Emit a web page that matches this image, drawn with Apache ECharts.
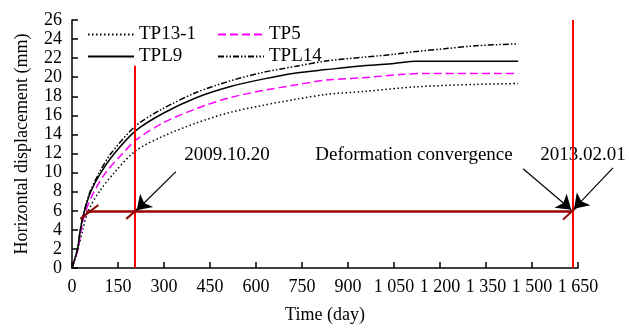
<!DOCTYPE html>
<html>
<head>
<meta charset="utf-8">
<script src="https://cdn.jsdelivr.net/npm/echarts@6/dist/echarts.min.js"></script>
<style>
  html, body { margin: 0; padding: 0; background: #fff; }
  #chart { width: 629px; height: 329px; }
</style>
</head>
<body>
<div id="chart"></div>
<script>
  // measured displacement curves (day, mm)
  const tp131Days = [0, 20, 35, 53, 89, 138, 208, 296, 405, 514, 622, 731, 829, 950, 1123, 1318, 1455]
  const tp131Vals = [0, 2, 4, 6, 8, 10, 12.3, 13.8, 15.2, 16.3, 17.05, 17.7, 18.2, 18.5, 19.0, 19.25, 19.34]

  const tp5Days = [0, 20, 30, 45, 72, 110, 165, 208, 296, 405, 514, 622, 731, 829, 950, 1079, 1150, 1455]
  const tp5Vals = [0, 2, 4, 6, 8, 10, 12, 13.4, 15.2, 16.7, 17.85, 18.6, 19.2, 19.7, 19.95, 20.3, 20.39, 20.39]

  const tpl9Days = [0, 18, 27, 41, 61, 94, 138, 208, 296, 405, 514, 622, 731, 829, 950, 1050, 1123, 1455]
  const tpl9Vals = [0, 2, 4, 6, 8, 10, 12, 14.4, 16.2, 17.85, 19.0, 19.8, 20.45, 20.8, 21.2, 21.45, 21.67, 21.67]

  const tpl14Days = [0, 18, 27, 40, 59, 89, 127, 208, 296, 405, 514, 622, 731, 829, 950, 1050, 1123, 1220, 1318, 1455]
  const tpl14Vals = [0, 2, 4, 6, 8, 10, 12, 14.9, 16.7, 18.4, 19.6, 20.5, 21.15, 21.7, 22.1, 22.4, 22.7, 23.0, 23.3, 23.5]

  // annotation lines, in axis units
  const redLines = [[[206, 0], [206, 21.2]], [[1632, 0], [1632, 26]]]
  const convergeLine = [[[46, 6], [1632, 6]]]
  const slantMarks = [[[27, 5.15], [86, 6.6]], [[177, 5.15], [215, 6.2]], [[1601, 5.07], [1650, 6.53]]]
  const arrows = [[[339, 10.1], [211, 6.05]], [[1471, 10.4], [1628, 6.1]], [[1764, 10.5], [1637, 6.2]]]

  const xMax = 1650
  const yMax = 26

  const font = 'Liberation Serif'
  const pairs = (xs, ys) => xs.map((x, i) => [x, ys[i]])
  const seg = list => list.map(c => ({ coords: c }))

  const legendBase = {
    orient: 'vertical', top: 20, itemGap: 3,
    itemWidth: 46, itemHeight: 14,
    itemStyle: { color: 'rgba(0,0,0,0)', borderWidth: 0 },
    textStyle: { fontFamily: font, fontSize: 19, color: '#000' }
  }

  let chart = echarts.init(document.getElementById('chart'))
  chart.setOption({
    animation: false,
    textStyle: { fontFamily: font },
    grid: { left: 72, top: 20, width: 506, height: 249 },
    legend: [
      Object.assign({}, legendBase, { left: 82, data: ['TP13-1', 'TPL9'] }),
      Object.assign({}, legendBase, { left: 212, data: ['TP5', 'TPL14'] })
    ],
    xAxis: {
      type: 'value', min: 0, max: xMax, interval: 150,
      name: 'Time (day)', nameLocation: 'middle', nameGap: 38,
      nameTextStyle: { fontFamily: font, fontSize: 18, color: '#000' },
      axisLine: { lineStyle: { color: '#000', width: 1.5 } },
      axisTick: { inside: true, length: 6, lineStyle: { color: '#000', width: 1.5 } },
      axisLabel: {
        fontFamily: font, fontSize: 18, color: '#000', margin: 10,
        formatter: v => v >= 1000 ? String(v).replace(/^(\d)(\d{3})$/, '$1 $2') : String(v)
      },
      splitLine: { show: false }
    },
    yAxis: {
      type: 'value', min: 0, max: yMax, interval: 2,
      name: 'Horizontal displacement (mm)', nameLocation: 'middle', nameGap: 41,
      nameTextStyle: { fontFamily: font, fontSize: 18, color: '#000' },
      axisLine: { show: true, lineStyle: { color: '#000', width: 1.5 } },
      axisTick: { show: true, inside: true, length: 6, lineStyle: { color: '#000', width: 1.5 } },
      axisLabel: { fontFamily: font, fontSize: 18, color: '#000', margin: 10 },
      splitLine: { show: false }
    },
    series: [
      {
        name: 'TP13-1', type: 'line', symbol: 'none', z: 3, smooth: 0.3,
        data: pairs(tp131Days, tp131Vals),
        lineStyle: { color: '#000', width: 1.5, type: [1.5, 2.5] },
        itemStyle: { color: '#000' }
      },
      {
        name: 'TP5', type: 'line', symbol: 'none', z: 3, smooth: 0.3,
        data: pairs(tp5Days, tp5Vals),
        lineStyle: { color: '#ff00ff', width: 1.5, type: [8, 4] },
        itemStyle: { color: '#ff00ff' }
      },
      {
        name: 'TPL9', type: 'line', symbol: 'none', z: 3, smooth: 0.3,
        data: pairs(tpl9Days, tpl9Vals),
        lineStyle: { color: '#000', width: 1.5, type: 'solid' },
        itemStyle: { color: '#000' }
      },
      {
        name: 'TPL14', type: 'line', symbol: 'none', z: 3, smooth: 0.3,
        data: pairs(tpl14Days, tpl14Vals),
        lineStyle: { color: '#000', width: 1.5, type: [6, 2, 1.5, 2, 1.5, 2] },
        itemStyle: { color: '#000' }
      },
      {
        type: 'lines', coordinateSystem: 'cartesian2d', clip: false, z: 4,
        symbol: 'none', silent: true,
        lineStyle: { color: '#990000', width: 2.5, opacity: 1 },
        data: seg(convergeLine)
      },
      {
        type: 'lines', coordinateSystem: 'cartesian2d', clip: false, z: 5,
        symbol: 'none', silent: true,
        lineStyle: { color: '#ff0000', width: 2, opacity: 1 },
        data: seg(redLines)
      },
      {
        type: 'lines', coordinateSystem: 'cartesian2d', clip: false, z: 6,
        symbol: 'none', silent: true,
        lineStyle: { color: '#8b0000', width: 2, opacity: 1 },
        data: seg(slantMarks)
      },
      {
        type: 'lines', coordinateSystem: 'cartesian2d', clip: false, z: 7,
        symbol: ['none', 'arrow'], symbolSize: 14, silent: true,
        lineStyle: { color: '#000', width: 1.2, opacity: 1 },
        itemStyle: { color: '#000' },
        data: seg(arrows)
      }
    ],
    graphic: [
      { type: 'text', x: 227, y: 155, style: { text: '2009.10.20', font: '19px "Liberation Serif"', fill: '#000', align: 'center', verticalAlign: 'middle' } },
      { type: 'text', x: 414, y: 155, style: { text: 'Deformation convergence', font: '19px "Liberation Serif"', fill: '#000', align: 'center', verticalAlign: 'middle' } },
      { type: 'text', x: 583, y: 155, style: { text: '2013.02.01', font: '19px "Liberation Serif"', fill: '#000', align: 'center', verticalAlign: 'middle' } }
    ]
  })
</script>
</body>
</html>
